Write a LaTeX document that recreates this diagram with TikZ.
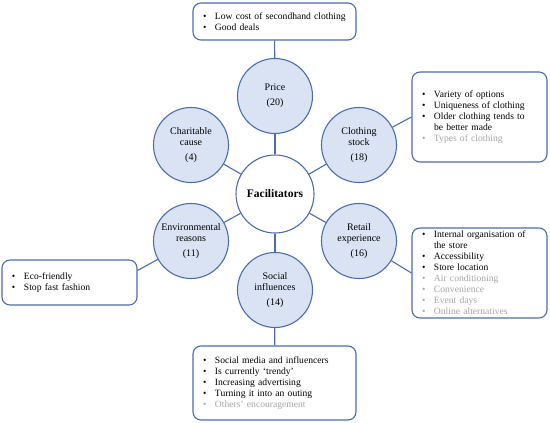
\documentclass[tikz,border=0pt]{standalone}
\usepackage{fontspec}
\setmainfont{Liberation Serif}
\definecolor{rim}{HTML}{4A6DB0}
\definecolor{pale}{HTML}{DAE3F3}
\definecolor{faded}{HTML}{A6A6A6}
\newcommand{\bul}{\makebox[12pt][l]{\textbullet}}
\newcommand{\faint}{\color{faded}\makebox[12pt][l]{\textbullet}}
\newcommand{\cont}{\hspace*{12pt}}
\begin{document}
\begin{tikzpicture}[x=1pt, y=-1pt, every node/.style={font=\fontsize{9.6}{11}\selectfont}, theme/.style={circle, draw=rim, fill=pale, line width=1.1pt, minimum size=75pt, inner sep=0pt, align=center, font=\fontsize{10}{11.5}\selectfont}, core/.style={circle, draw=rim, fill=white, line width=1.1pt, minimum size=78pt, inner sep=0pt, font=\fontsize{11.5}{13}\selectfont\bfseries}, notes/.style={draw=rim, fill=white, rounded corners=8pt, line width=1.1pt, align=left, inner xsep=10pt, inner ysep=0pt}, link/.style={draw=rim, line width=1.1pt}]
		\useasboundingbox (0,0) rectangle (550,423);
		\node[core] (hub) at (275, 194) {Facilitators};
		\node[theme] (price) at (275, 96) {Price\\[4pt](20)};
		\node[theme] (cause) at (191, 145) {Charitable\\cause\\[3pt](4)};
		\node[theme] (stock) at (359, 145) {Clothing\\stock\\[3pt](18)};
		\node[theme] (green) at (191, 241) {Environmental\\reasons\\[3pt](11)};
		\node[theme] (retail) at (359, 241) {Retail\\experience\\[3pt](16)};
		\node[theme] (social) at (275, 290) {Social\\influences\\[3pt](14)};

		\node[notes, text width=143pt, minimum height=37pt] (pricebox) at (274.5, 21.5) {\bul Low cost of secondhand clothing\\ \bul Good deals};
		\node[notes, text width=115pt, minimum height=90pt] (stockbox) at (479.5, 117) {\bul Variety of options\\ \bul Uniqueness of clothing\\ \bul Older clothing tends to\\ \cont be better made\\ \faint Types of clothing};
		\node[notes, text width=115pt, minimum height=90pt] (retailbox) at (479.5, 273) {\bul Internal organisation of\\ \cont the store\\ \bul Accessibility\\ \bul Store location\\ \faint Air conditioning\\ \faint Convenience\\ \faint Event days\\ \faint Online alternatives};
		\node[notes, text width=115pt, minimum height=45pt] (greenbox) at (69.5, 282.5) {\bul Eco-friendly\\ \bul Stop fast fashion};
		\node[notes, text width=143pt, minimum height=74pt] (socialbox) at (274.5, 383) {\bul Social media and influencers\\ \bul Is currently `trendy'\\ \bul Increasing advertising\\ \bul Turning it into an outing\\ \faint Others' encouragement};

		\draw[link] (hub) -- (price);
		\draw[link] (hub) -- (cause);
		\draw[link] (hub) -- (stock);
		\draw[link] (hub) -- (green);
		\draw[link] (hub) -- (retail);
		\draw[link] (hub) -- (social);
		\draw[link] (price) -- (pricebox);
		\draw[link] (stock) -- (stockbox.west);
		\draw[link] (retail) -- (retailbox.west);
		\draw[link] (green) -- (greenbox.10);
		\draw[link] (social) -- (socialbox);
\end{tikzpicture}
\end{document}
